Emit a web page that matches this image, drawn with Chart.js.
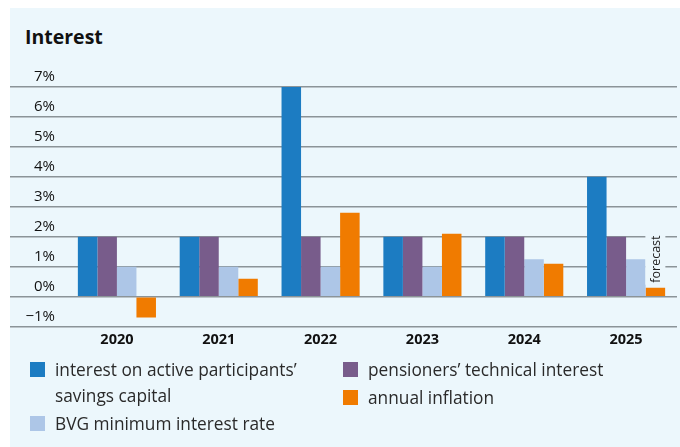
<!DOCTYPE html>
<html>
<head>
<meta charset="utf-8">
<script src="https://cdn.jsdelivr.net/npm/chart.js@4/dist/chart.umd.min.js"></script>
<style>
  html, body { margin: 0; padding: 0; background: #fff; }
  body { width: 680px; height: 447px; position: relative; overflow: hidden; font-family: "Open Sans", sans-serif; }
  #panel { position: absolute; left: 10px; top: 8px; width: 670px; height: 439px; background: #ecf7fc; }
  #title { position: absolute; left: 15px; top: 15px; font-weight: bold; font-size: 19.5px; color: #111; }
  #chartBox { position: absolute; left: 0; top: 0; width: 670px; height: 350px; }
  .legCol { position: absolute; top: 349px; }
  .legItem { display: flex; align-items: flex-start; margin-bottom: 2px; font-size: 17.3px; line-height: 26px; color: #2a2a2a; }
  .legItem .sw { width: 15px; height: 15px; flex: none; margin-top: 5px; margin-right: 10px; }
</style>
</head>
<body>
<div id="panel">
  <div id="title">Interest</div>
  <div id="chartBox"><canvas id="chart"></canvas></div>
  <div class="legCol" id="leg1" style="left:20px;"></div>
  <div class="legCol" id="leg2" style="left:333px;"></div>
</div>
<script>
const years = ['2020', '2021', '2022', '2023', '2024', '2025'];
const activeInterest = [2, 2, 7, 2, 2, 4];
const technicalInterest = [2, 2, 2, 2, 2, 2];
const bvgMinimum = [1, 1, 1, 1, 1.25, 1.25];
const inflation = [-0.7, 0.6, 2.8, 2.1, 1.1, 0.3];
const seriesNames = [
  'interest on active participants\u2019 savings capital',
  'pensioners\u2019 technical interest',
  'BVG minimum interest rate',
  'annual inflation'
];
const seriesColors = ['#1c7cc2', '#785c8b', '#adc6e7', '#f07b00'];
const yTicks = [-1, 0, 1, 2, 3, 4, 5, 6, 7];
const forecastNote = 'forecast';

const panelColor = '#ecf7fc';
const gridColor = '#8b9498';

const seriesValues = [activeInterest, technicalInterest, bvgMinimum, inflation];

// "forecast" note sits above the last inflation bar
const forecastPlugin = {
  id: 'forecastNote',
  afterDatasetsDraw(chart) {
    const meta = chart.getDatasetMeta(3);
    const bar = meta.data[meta.data.length - 1];
    if (!bar) return;
    const ctx = chart.ctx;
    const top = Math.min(bar.y, bar.base);
    ctx.save();
    ctx.font = '12.5px "Open Sans", sans-serif';
    const w = ctx.measureText(forecastNote).width;
    ctx.fillStyle = panelColor;
    ctx.fillRect(bar.x - 10, top - 5 - w - 4, 20, w + 6);
    ctx.translate(bar.x + 1, top - 5);
    ctx.rotate(-Math.PI / 2);
    ctx.fillStyle = '#222';
    ctx.textAlign = 'left';
    ctx.textBaseline = 'middle';
    ctx.fillText(forecastNote, 0, 0);
    ctx.restore();
  }
};

new Chart(document.getElementById('chart').getContext('2d'), {
  type: 'bar',
  data: {
    labels: years,
    datasets: seriesValues.map((vals, i) => ({
      label: seriesNames[i],
      data: vals,
      backgroundColor: seriesColors[i],
      borderWidth: 0,
      categoryPercentage: 0.767,
      barPercentage: 1.0
    }))
  },
  options: {
    responsive: true,
    maintainAspectRatio: false,
    animation: false,
    layout: { padding: { left: 0, right: 3, top: 79, bottom: 4 } },
    plugins: {
      legend: { display: false },
      title: { display: false },
      tooltip: { enabled: false }
    },
    scales: {
      x: {
        grid: { display: false, drawTicks: false },
        border: { display: false },
        ticks: {
          color: '#111',
          padding: 5,
          font: { family: '"Open Sans", sans-serif', size: 14.5, weight: 'bold' }
        }
      },
      y: {
        min: yTicks[0],
        max: yTicks[yTicks.length - 1],
        afterBuildTicks(scale) { scale.ticks = yTicks.map(v => ({ value: v })); },
        afterFit(scale) { scale.width = 56; },
        border: { display: false },
        grid: { color: gridColor, lineWidth: 1.5, tickLength: 56 },
        ticks: {
          padding: -45,
          labelOffset: -10,
          color: '#111',
          font: { family: '"Open Sans", sans-serif', size: 15 },
          callback: v => (v < 0 ? '\u2212' + Math.abs(v) : v) + '%'
        }
      }
    }
  },
  plugins: [forecastPlugin]
});

// HTML legend: two columns like the original
function legendItem(i, width) {
  const item = document.createElement('div');
  item.className = 'legItem';
  const sw = document.createElement('span');
  sw.className = 'sw';
  sw.style.background = seriesColors[i];
  const txt = document.createElement('span');
  txt.textContent = seriesNames[i];
  if (width) txt.style.width = width + 'px';
  item.appendChild(sw);
  item.appendChild(txt);
  return item;
}
const leg1 = document.getElementById('leg1');
const leg2 = document.getElementById('leg2');
leg1.appendChild(legendItem(0, 262));
leg1.appendChild(legendItem(2));
leg2.appendChild(legendItem(1));
leg2.appendChild(legendItem(3));
</script>
</body>
</html>
